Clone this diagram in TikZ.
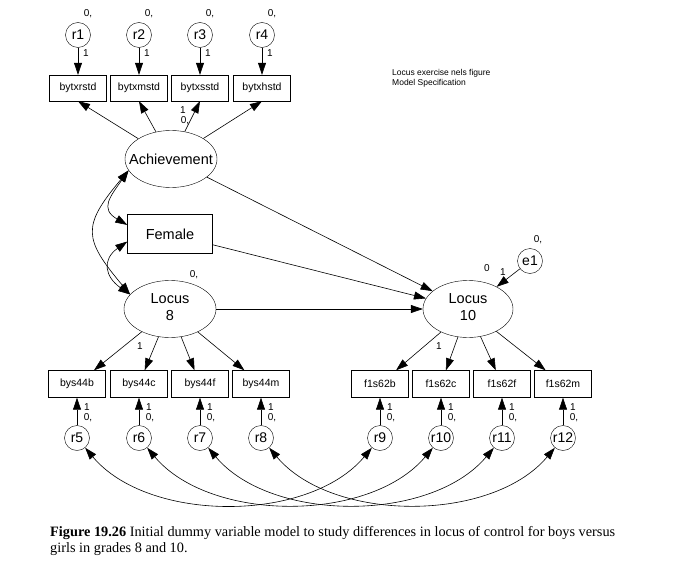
\documentclass[tikz,border=0pt]{standalone}
\usepackage{fontspec}
\setmainfont{Liberation Sans}
\newfontfamily\capfont{Liberation Serif}
\usetikzlibrary{arrows.meta, shapes.geometric}

\begin{document}
\begin{tikzpicture}[x=1pt, y=1pt, >={Triangle[length=12pt,width=8pt]},
	latent/.style={draw, ellipse, minimum width=92pt, minimum height=57pt, inner sep=0pt},
	lattext/.style={align=center, inner sep=0pt, font=\fontsize{14.5}{17}\selectfont},
	obsbox/.style={draw, minimum width=57pt, minimum height=26pt, inner sep=0pt, font=\fontsize{10.5}{11}\selectfont},
	errcirc/.style={draw, circle, minimum size=25pt, inner sep=0pt, font=\fontsize{14}{14}\selectfont},
	lbl/.style={inner sep=0pt, font=\fontsize{10}{10}\selectfont},
	reg/.style={->, line width=0.6pt},
	cov/.style={<->, line width=0.6pt}]
	\useasboundingbox (0,0) rectangle (674,-567);

	% latent variables and female
	\node[latent] (ach) at (171,-159) {};
	\node[lattext] (achtxt) at (ach) {Achievement};
	\node[draw, minimum width=85pt, minimum height=39pt, inner sep=0pt, font=\fontsize{14.5}{15}\selectfont] (fem) at (170,-234) {Female};
	\node[latent] (loc8) at (170,-309) {};
	\node[lattext] (loc8txt) at (170,-307) {Locus\\8};
	\node[latent, minimum width=90pt] (loc10) at (468,-309) {};
	\node[lattext] (loc10txt) at (468,-307) {Locus\\10};
	\node[errcirc] (e1) at (530,-261) {e1};
	\node[lbl] at (194,-275) {0,};
	\node[lbl] at (538,-240) {0,};
	\node[lbl] at (487,-268) {0};
	\node[lbl] at (503,-272) {1};

	% achievement indicators
	\foreach \i/\x/\nm in {1/78/bytxrstd, 2/139/bytxmstd, 3/200/bytxsstd, 4/262/bytxhstd} {
		\node[obsbox] (bx\i) at (\x,-88) {\nm};
		\node[errcirc] (r\i) at (\x,-35) {r\i};
		\node[lbl] at (\x+10,-14) {0,};
		\node[lbl] at (\x+8,-53) {1};
		\draw[reg] (r\i) -- (bx\i);
		\draw[reg] (ach) -- (bx\i.south);
	}
	\node[lbl] at (183,-110) {1};
	\node[lbl] at (185,-121) {0,};

	% locus indicators
	\foreach \i/\x/\nm/\lv in {5/77/bys44b/loc8, 6/139/bys44c/loc8, 7/200/bys44f/loc8, 8/261/bys44m/loc8,
		9/380/f1s62b/loc10, 10/441/f1s62c/loc10, 11/502/f1s62f/loc10, 12/563/f1s62m/loc10} {
		\node[obsbox, minimum height=27pt] (bx\i) at (\x,-384) {\nm};
		\node[errcirc] (r\i) at (\x,-438) {r\i};
		\node[lbl] at (\x+10,-407) {1};
		\node[lbl] at (\x+11,-418) {0,};
		\draw[reg] (r\i) -- (bx\i);
		\draw[reg] (\lv) -- (bx\i);
	}
	\node[lbl] at (140,-346) {1};
	\node[lbl] at (439,-346) {1};

	% structural paths
	\draw[reg] (ach) -- (loc10);
	\draw[reg] (fem) -- (loc10);
	\draw[reg] (loc8) -- (loc10);
	\draw[reg] (e1) -- (loc10);

	% covariances
	\draw[cov] (ach.195) to[out=235, in=150, looseness=1.5] (fem.168);
	\draw[cov] (fem.190) to[out=215, in=145, looseness=1.5] (loc8.160);
	\draw[cov] (ach.195) to[out=230, in=130, looseness=1.5] (loc8.160);
	\foreach \a/\b in {5/9, 6/10, 7/11, 8/12}
		\draw[cov] (r\a) to[out=-50, in=-130, looseness=0.88] (r\b);

	\node[anchor=north west, align=left, inner sep=0pt, font=\fontsize{8.5}{10.5}\selectfont] (note) at (392,-69) {Locus exercise nels figure\\Model Specification};
	\node[anchor=base west, align=left, inner sep=0pt, font=\capfont\fontsize{14.3}{15.6}\selectfont] (cap) at (50,-552)
		{\textbf{Figure 19.26} Initial dummy variable model to study differences in locus of control for boys versus\\girls in grades 8 and 10.};
\end{tikzpicture}
\end{document}
